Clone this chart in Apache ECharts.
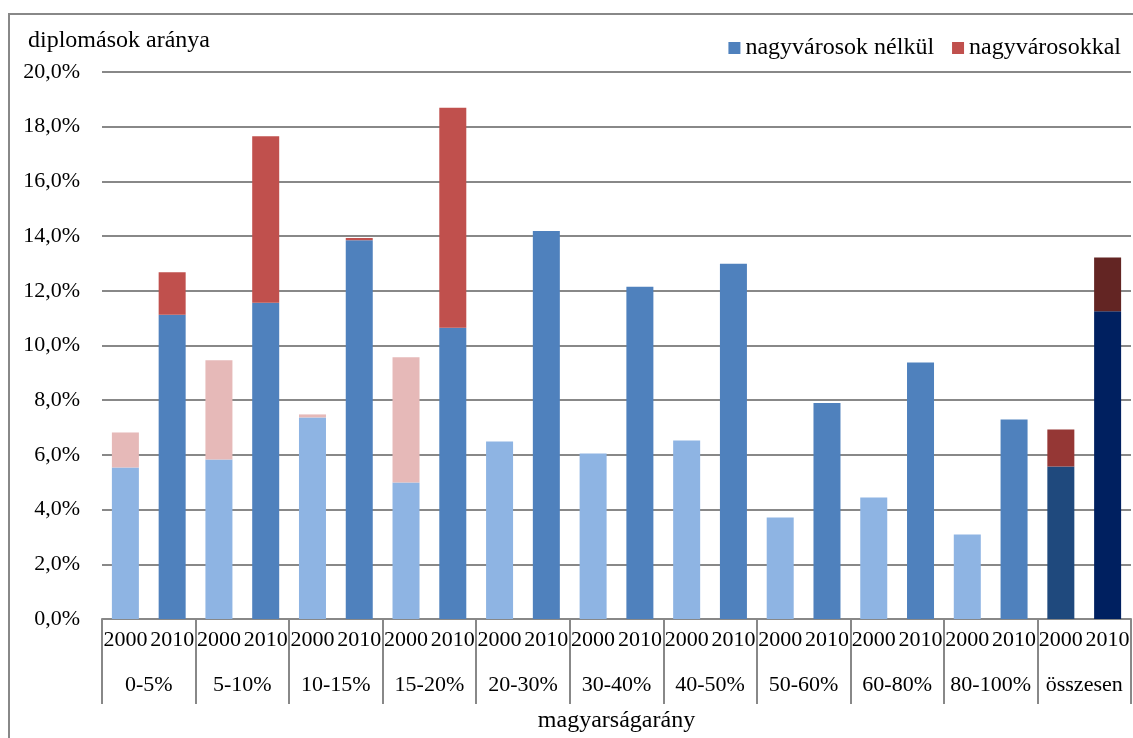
<!DOCTYPE html>
<html>
<head>
<meta charset="utf-8">
<script src="https://cdn.jsdelivr.net/npm/echarts@6/dist/echarts.min.js"></script>
<style>
  html, body { margin: 0; padding: 0; background: #fff; }
  #chart { width: 1133px; height: 738px; }
</style>
</head>
<body>
<div id="chart"></div>
<script>
const groups = ['0-5%', '5-10%', '10-15%', '15-20%', '20-30%', '30-40%', '40-50%', '50-60%', '60-80%', '80-100%', 'összesen']
const years = ['2000', '2010']
const yTicks = [0, 2, 4, 6, 8, 10, 12, 14, 16, 18, 20]

// diplomások aránya (%), nagyvárosok nélkül
const nelkul2000 = [5.54, 5.83, 7.37, 4.99, 6.49, 6.05, 6.53, 3.71, 4.44, 3.09, 5.58]
const nelkul2010 = [11.12, 11.56, 13.85, 10.65, 14.19, 12.15, 12.99, 7.90, 9.38, 7.29, 11.25]
// nagyvárosokkal együtt (összes), ahol van
const vel2000 = [6.82, 9.46, 7.48, 9.57, null, null, null, null, null, null, 6.93]
const vel2010 = [12.68, 17.65, 13.93, 18.69, null, null, null, null, null, null, 13.22]

const font = "'Liberation Serif', 'Times New Roman', serif"
const baseColors = { '2000': '#8EB4E3', '2010': '#4F81BD' }
const addColors = { '2000': '#E6B9B8', '2010': '#C0504D' }
const totalBase = { '2000': '#1F497D', '2010': '#002060' }
const totalAdd = { '2000': '#953735', '2010': '#632523' }

const cats = []
const baseData = []
const addData = []
groups.forEach((g, i) => {
  years.forEach((y) => {
    const base = y === '2000' ? nelkul2000[i] : nelkul2010[i]
    const all = y === '2000' ? vel2000[i] : vel2010[i]
    const isTotal = g === 'összesen'
    cats.push(y)
    baseData.push({ value: base, itemStyle: { color: isTotal ? totalBase[y] : baseColors[y] } })
    addData.push({
      value: all == null ? null : +(all - base).toFixed(2),
      itemStyle: { color: isTotal ? totalAdd[y] : addColors[y] }
    })
  })
})

const chart = echarts.init(document.getElementById('chart'))
chart.setOption({
  animation: false,
  textStyle: { fontFamily: font, color: '#000' },
  title: {
    text: 'diplomások aránya',
    left: 28, top: 29, padding: 0,
    textStyle: { fontFamily: font, fontSize: 24, fontWeight: 'normal', color: '#000' }
  },
  legend: {
    right: 7, top: 31,
    itemWidth: 12, itemHeight: 12, itemGap: 18,
    icon: 'rect',
    textStyle: { fontFamily: font, fontSize: 24, color: '#000' },
    data: ['nagyvárosok nélkül', 'nagyvárosokkal']
  },
  graphic: [{
    type: 'rect',
    shape: { x: 9, y: 14, width: 1140, height: 760 },
    style: { fill: 'none', stroke: '#888', lineWidth: 2 },
    silent: true
  }],
  grid: { left: 102, right: 2, top: 72, bottom: 119 },
  xAxis: [{
    type: 'category',
    data: cats,
    axisLine: { lineStyle: { color: '#888', width: 2 } },
    axisTick: { show: false },
    axisLabel: { interval: 0, margin: 10, fontSize: 22, color: '#000', fontFamily: font }
  }, {
    type: 'category',
    data: groups,
    position: 'bottom',
    axisLine: { show: false },
    axisTick: { show: true, length: 85, lineStyle: { color: '#888', width: 2 } },
    axisLabel: { interval: 0, margin: 55, fontSize: 22, color: '#000', fontFamily: font },
    name: 'magyarságarány',
    nameLocation: 'middle',
    nameGap: 90,
    nameTextStyle: { fontSize: 24, color: '#000', fontFamily: font }
  }],
  yAxis: {
    type: 'value',
    min: yTicks[0], max: yTicks[yTicks.length - 1], interval: 2,
    axisLine: { show: false },
    axisTick: { show: false },
    splitLine: { lineStyle: { color: '#888', width: 2 } },
    axisLabel: {
      margin: 22, fontSize: 22, color: '#000', fontFamily: font,
      formatter: (v) => v.toFixed(1).replace('.', ',') + '%'
    }
  },
  series: [{
    name: 'nagyvárosok nélkül',
    type: 'bar',
    stack: 'all',
    xAxisIndex: 0,
    barWidth: 27,
    itemStyle: { color: '#4F81BD' },
    data: baseData
  }, {
    name: 'nagyvárosokkal',
    type: 'bar',
    stack: 'all',
    xAxisIndex: 0,
    barWidth: 27,
    itemStyle: { color: '#C0504D' },
    data: addData
  }]
})
</script>
</body>
</html>
